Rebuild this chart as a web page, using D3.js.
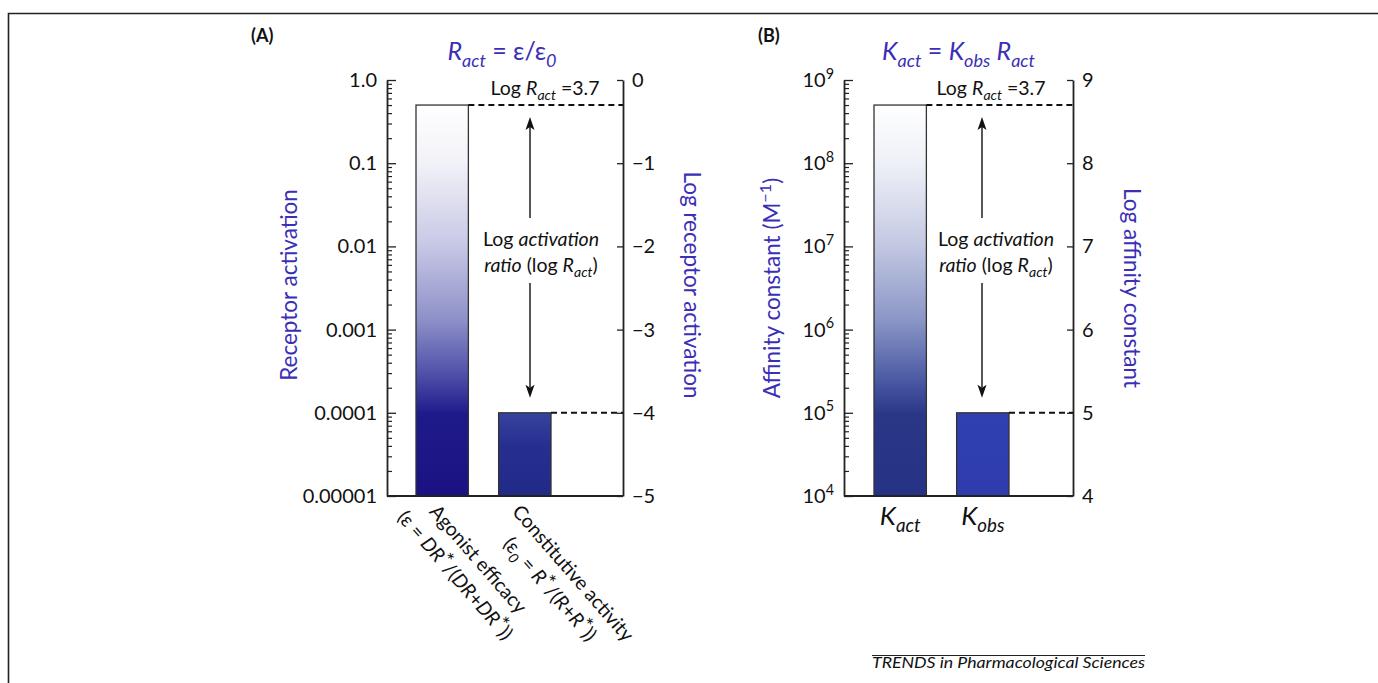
<!DOCTYPE html>
<html><head><meta charset="utf-8">
<script src="https://cdn.jsdelivr.net/npm/d3@7"></script>
<style>
body{margin:0;background:#fff}
svg{display:block}
text{font-family:Lato,"Open Sans",sans-serif}
</style>
</head><body>
<svg id="c" width="1378" height="683"></svg>
<script>
// ---------- data ----------
const categoriesA = ["Agonist efficacy", "Constitutive activity"];
const valuesA = [0.5, 0.0001];
const leftTicksA = ["0.00001", "0.0001", "0.001", "0.01", "0.1", "1.0"];
const rightTicksA = ["−5", "−4", "−3", "−2", "−1", "0"];
const categoriesB = ["Kact", "Kobs"];
const valuesB = [5e8, 1e5];
const leftTickExpB = ["4", "5", "6", "7", "8", "9"];
const rightTicksB = ["4", "5", "6", "7", "8", "9"];
const logRactLabel = "3.7";

const BLUE = "#3a2fb6";
const TICK_FS = 20, ANN_FS = 19.5, AXT_FS = 22.5, TITLE_FS = 25;
const svg = d3.select("#c");
const defs = svg.append("defs");

function grad(id, stops) {
  const g = defs.append("linearGradient").attr("id", id)
    .attr("x1", 0).attr("y1", 0).attr("x2", 0).attr("y2", 1);
  stops.forEach(s => g.append("stop").attr("offset", s[0]).attr("stop-color", s[1]));
}
grad("gA1", [[0, "#ffffff"], [0.15, "#f1f1f8"], [0.35, "#c9cae6"], [0.55, "#8d90c8"], [0.7, "#4a4aa6"], [0.79, "#1f1a8a"], [1, "#1a1282"]]);
grad("gA2", [[0, "#36439f"], [0.4, "#262f8e"], [1, "#222a88"]]);
grad("gB1", [[0, "#ffffff"], [0.15, "#eef0f7"], [0.35, "#c5cae3"], [0.55, "#8a96c6"], [0.7, "#4c5ba4"], [0.79, "#2a3787"], [1, "#263283"]]);
grad("gB2", [[0, "#3140b0"], [1, "#2e3cad"]]);

// rich text helper
function rich(sel, parts, size) {
  let shift = 0;
  parts.forEach(p => {
    const t = sel.append("tspan").text(p.t);
    if (p.i) t.attr("font-style", "italic");
    let target = 0, fs = size;
    if (p.sub) { target = size * 0.28; fs = size * 0.72; }
    if (p.sup) { target = -size * 0.42; fs = size * 0.72; }
    if (p.star) { target = -size * 0.2; fs = size * 1.05; }
    t.attr("font-size", fs);
    if (target !== shift) { t.attr("dy", target - shift); shift = target; }
  });
  return sel;
}

// frame
svg.append("path").attr("d", "M8.5,683 V13.5 H1378").attr("fill", "none")
  .attr("stroke", "#222").attr("stroke-width", 1.6);

const Y0 = 496, Y1 = 80;

function panel(cfg) {
  const g = svg.append("g");
  const y = d3.scaleLog().domain([cfg.lo, cfg.hi]).range([Y0, Y1]);
  const ll = Math.log10(cfg.lo), lh = Math.log10(cfg.hi);
  const yR = d3.scaleLinear().domain([ll, lh]).range([Y0, Y1]);
  const x = d3.scaleBand().domain(cfg.cats).range(cfg.band).paddingInner(0.366).paddingOuter(0);
  const bw = x.bandwidth();

  // bars
  g.selectAll("rect.bar").data(cfg.vals).enter().append("rect")
    .attr("x", (d, i) => x(cfg.cats[i])).attr("y", d => y(d))
    .attr("width", bw).attr("height", d => Y0 - y(d))
    .attr("fill", (d, i) => `url(#${cfg.grads[i]})`)
    .attr("stroke", "#333").attr("stroke-width", 1.3);

  // dashed reference lines
  g.selectAll("line.dash").data(cfg.vals).enter().append("line")
    .attr("x1", (d, i) => x(cfg.cats[i]) + bw).attr("x2", cfg.xR)
    .attr("y1", d => y(d)).attr("y2", d => y(d))
    .attr("stroke", "#111").attr("stroke-width", 1.9).attr("stroke-dasharray", "6,4");

  // axes
  const decades = d3.range(ll, lh + 1).map(e => Math.pow(10, e));
  const minors = [];
  for (let e = ll; e < lh; e++) for (let m = 2; m <= 9; m++) minors.push(m * Math.pow(10, e));

  const gm = g.append("g").attr("transform", `translate(${cfg.xL},0)`)
    .call(d3.axisLeft(y).tickValues(minors).tickSize(-5).tickSizeOuter(0).tickFormat(""));
  gm.select(".domain").remove();
  gm.selectAll("line").attr("stroke", "#222").attr("stroke-width", 1.2);

  const gl = g.append("g").attr("transform", `translate(${cfg.xL},0)`)
    .call(d3.axisLeft(y).tickValues(decades).tickSize(-9).tickSizeOuter(0).tickPadding(10)
      .tickFormat((d, i) => cfg.leftLabels ? cfg.leftLabels[i] : ""));
  gl.select(".domain").attr("stroke", "#222").attr("stroke-width", 1.8);
  gl.selectAll("line").attr("stroke", "#222").attr("stroke-width", 1.3);
  gl.selectAll("text").attr("font-family", "Lato").attr("font-size", TICK_FS).attr("fill", "#111");
  if (cfg.leftExp) {
    gl.selectAll("text").each(function (d, i) {
      const t = d3.select(this).text(null).attr("dy", "0.32em");
      rich(t, [{ t: "10" }, { t: cfg.leftExp[i], sup: true }], TICK_FS);
    });
  }

  const gr = g.append("g").attr("transform", `translate(${cfg.xR},0)`)
    .call(d3.axisRight(yR).tickValues(d3.range(ll, lh + 1)).tickSize(-6).tickSizeOuter(0).tickPadding(9)
      .tickFormat((d, i) => cfg.rightLabels[i]));
  gr.select(".domain").attr("stroke", "#222").attr("stroke-width", 1.8);
  gr.selectAll("line").attr("stroke", "#222").attr("stroke-width", 1.3);
  gr.selectAll("text").attr("font-family", "Lato").attr("font-size", TICK_FS).attr("fill", "#111");

  // bottom line
  g.append("line").attr("x1", cfg.xL).attr("x2", cfg.xR).attr("y1", Y0).attr("y2", Y0)
    .attr("stroke", "#222").attr("stroke-width", 1.8);

  // panel letter
  g.append("text").attr("x", cfg.letterX).attr("y", 42).attr("font-weight", "bold")
    .attr("font-size", 18).attr("fill", "#111").text(cfg.letter);

  // title
  rich(g.append("text").attr("x", (cfg.xL + cfg.xR) / 2 + cfg.titleDx).attr("y", 60)
    .attr("text-anchor", "middle").attr("fill", BLUE), cfg.title, TITLE_FS);

  // Log Ract = 3.7
  rich(g.append("text").attr("x", cfg.logX).attr("y", 95).attr("text-anchor", "middle").attr("fill", "#111"),
    [{ t: "Log " }, { t: "R", i: true }, { t: "act", i: true, sub: true }, { t: " =" + logRactLabel }], ANN_FS);

  // arrow
  const ax = cfg.arrowX;
  const yTopV = y(cfg.vals[0]), yBotV = y(cfg.vals[1]);
  const tip1 = yTopV + 12, tip2 = yBotV - 15;
  g.append("line").attr("x1", ax).attr("x2", ax).attr("y1", tip1 + 10).attr("y2", 218)
    .attr("stroke", "#111").attr("stroke-width", 1.4);
  g.append("line").attr("x1", ax).attr("x2", ax).attr("y1", 283).attr("y2", tip2 - 10)
    .attr("stroke", "#111").attr("stroke-width", 1.4);
  g.append("path").attr("d", `M${ax},${tip1} L${ax - 4.5},${tip1 + 13} L${ax},${tip1 + 10} L${ax + 4.5},${tip1 + 13} Z`).attr("fill", "#111");
  g.append("path").attr("d", `M${ax},${tip2} L${ax - 4.5},${tip2 - 13} L${ax},${tip2 - 10} L${ax + 4.5},${tip2 - 13} Z`).attr("fill", "#111");

  rich(g.append("text").attr("x", cfg.textX).attr("y", 246).attr("text-anchor", "middle").attr("fill", "#111"),
    [{ t: "Log " }, { t: "activation", i: true }], ANN_FS);
  rich(g.append("text").attr("x", cfg.textX).attr("y", 272).attr("text-anchor", "middle").attr("fill", "#111"),
    [{ t: "ratio", i: true }, { t: " (log " }, { t: "R", i: true }, { t: "act", i: true, sub: true }, { t: ")" }], ANN_FS);

  // axis titles
  const lt = g.append("text").attr("transform", `translate(${cfg.leftTitleX},${cfg.titleY}) rotate(-90)`)
    .attr("text-anchor", "middle").attr("fill", BLUE);
  rich(lt, cfg.leftTitle, AXT_FS);
  const rt = g.append("text").attr("transform", `translate(${cfg.rightTitleX},${cfg.titleY}) rotate(90)`)
    .attr("text-anchor", "middle").attr("fill", BLUE);
  rich(rt, cfg.rightTitle, AXT_FS);

  return { x, y, bw, g };
}

// ---------- Panel A ----------
const A = panel({
  lo: 1e-5, hi: 1, cats: categoriesA, vals: valuesA, band: [416, 551], xL: 387, xR: 623,
  grads: ["gA1", "gA2"], leftLabels: leftTicksA, rightLabels: rightTicksA,
  letter: "(A)", letterX: 251, titleDx: -3,
  title: [{ t: "R", i: true }, { t: "act", i: true, sub: true }, { t: " = ε/ε" }, { t: "0", i: true, sub: true }],
  logX: 545, arrowX: 530, textX: 541,
  leftTitleX: 297, rightTitleX: 684, titleY: 285,
  leftTitle: [{ t: "Receptor activation" }], rightTitle: [{ t: "Log receptor activation" }]
});

// rotated category labels A
const labA = [
  { l1: [{ t: "Agonist efficacy" }],
    l2: [{ t: "(ε = " }, { t: "DR", i: true }, { t: "*", star: true }, { t: "/(" }, { t: "DR", i: true }, { t: "+" }, { t: "DR", i: true }, { t: "*", star: true }, { t: "))" }] },
  { l1: [{ t: "Constitutive activity" }],
    l2: [{ t: "(ε" }, { t: "0", i: true, sub: true }, { t: "  = " }, { t: "R", i: true }, { t: "*", star: true }, { t: "/(" }, { t: "R", i: true }, { t: "+" }, { t: "R", i: true }, { t: "*", star: true }, { t: "))" }] }
];
categoriesA.forEach((c, i) => {
  const cx = A.x(c) + A.bw / 2 - 3;
  const gg = svg.append("g").attr("transform", `translate(${cx},${Y0 + 7}) rotate(49)`);
  const t1 = rich(gg.append("text").attr("x", 0).attr("y", 14).attr("fill", "#111"), labA[i].l1, ANN_FS);
  const len = t1.node().getComputedTextLength();
  rich(gg.append("text").attr("x", len / 2 - 3).attr("y", 42).attr("text-anchor", "middle").attr("fill", "#111"), labA[i].l2, ANN_FS);
});

// ---------- Panel B ----------
const B = panel({
  lo: 1e4, hi: 1e9, cats: categoriesB, vals: valuesB, band: [874, 1009], xL: 844, xR: 1073,
  grads: ["gB1", "gB2"], leftExp: leftTickExpB, rightLabels: rightTicksB,
  letter: "(B)", letterX: 758, titleDx: 0,
  title: [{ t: "K", i: true }, { t: "act", i: true, sub: true }, { t: " = " }, { t: "K", i: true }, { t: "obs", i: true, sub: true }, { t: " " }, { t: "R", i: true }, { t: "act", i: true, sub: true }],
  logX: 991, arrowX: 982, textX: 996,
  leftTitleX: 780, rightTitleX: 1124, titleY: 288,
  leftTitle: [{ t: "Affinity constant (M" }, { t: "−1", sup: true }, { t: ")" }], rightTitle: [{ t: "Log affinity constant" }]
});
categoriesB.forEach(c => {
  rich(svg.append("text").attr("x", B.x(c) + B.bw / 2).attr("y", 525).attr("text-anchor", "middle").attr("fill", "#111"),
    [{ t: c.slice(0, 1), i: true }, { t: c.slice(1), i: true, sub: true }], 26);
});

// footer
svg.append("line").attr("x1", 872).attr("x2", 1145).attr("y1", 655.5).attr("y2", 655.5)
  .attr("stroke", "#222").attr("stroke-width", 1);
svg.append("text").attr("x", 872).attr("y", 668)
  .attr("font-family", "Liberation Sans, Arial, sans-serif").attr("font-style", "italic")
  .attr("font-size", 15).attr("textLength", 273).attr("lengthAdjust", "spacingAndGlyphs")
  .attr("fill", "#111").text("TRENDS in Pharmacological Sciences");
</script>
</body></html>
